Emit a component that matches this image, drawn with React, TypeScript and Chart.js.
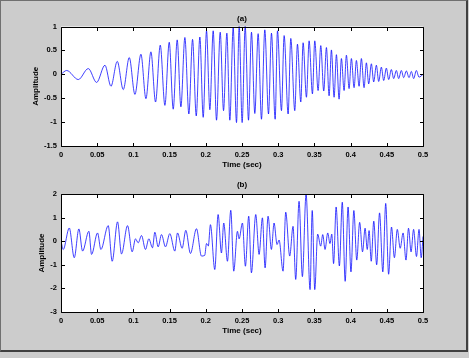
import React, { useEffect, useRef } from "react";
import { Chart, registerables } from "chart.js";

Chart.register(...registerables);

// ---------- data ----------
const timeA = [0, .0078, .0239, .0377, .0492, .0607, .069, .0777, .086, .0943, .1021, .1104, .1173, .1242, .1306, .1371, .1435, .1495, .155, .1605, .1656, .1711, .1766, .1817, .1868, .1918, .1964, .201, .2056, .2102, .2148, .2199, .2245, .2291, .2332, .2378, .2424, .2461, .2502, .2544, .259, .2631, .2677, .2723, .2769, .2815, .2866, .2907, .2958, .299, .3045, .3082, .3137, .3174, .3229, .3266, .3312, .3344, .339, .3427, .3473, .3505, .3551, .3588, .3629, .3666, .3703, .3735, .3772, .3804, .3841, .3873, .391, .3942, .3979, .4011, .4048, .408, .4117, .4149, .4186, .4218, .425, .4287, .4319, .4356, .4388, .4425, .4457, .4494, .4526, .4563, .4595, .4632, .4664, .4701, .4733, .477, .4807, .4839, .4871, .4908, .4945, .5];
const ampA = [0, .08, -.11, .12, -.17, .19, -.25, .27, -.32, .35, -.42, .42, -.51, .47, -.58, .61, -.65, .67, -.73, .72, -.68, .77, -.83, .73, -.87, .78, -.90, .91, -.74, .91, -.96, .88, -.76, .86, -.96, .97, -1.01, 1.01, -1.01, 1.01, -.96, .88, -.82, .85, -.94, .93, -.83, .86, -.94, .91, -.76, .81, -.83, .75, -.76, .63, -.58, .66, -.48, .70, -.41, .70, -.34, .60, -.35, .56, -.45, .51, -.48, .41, -.52, .33, -.34, .40, -.30, .33, -.28, .29, -.25, .33, -.28, .24, -.20, .22, -.16, .19, -.15, .15, -.13, .13, -.11, .10, -.09, .08, -.09, .08, -.07, .07, -.07, .06, -.09, .08, -.06, 0];

const timeB = [0, .0031, .0114, .0183, .0247, .0298, .0385, .0422, .0505, .0551, .0652, .0707, .0781, .0836, .0919, .0983, .1029, .1066, .1112, .1167, .1213, .1264, .1296, .1342, .1388, .1443, .1503, .1572, .1609, .1673, .1724, .1788, .1871, .194, .1985, .201, .2035, .2064, .2124, .217, .2216, .2248, .2299, .2345, .2386, .2437, .246, .2506, .2547, .2593, .263, .269, .2736, .2782, .2819, .286, .2906, .2943, .2984, .3012, .3067, .3104, .3159, .3205, .3242, .3288, .3334, .3385, .344, .347, .3505, .3545, .3587, .3615, .3647, .3684, .3715, .374, .3765, .38, .3845, .3885, .3925, .3965, .4005, .4045, .4085, .4125, .4165, .42, .423, .4255, .4285, .432, .436, .44, .4445, .4485, .4525, .4565, .4605, .4645, .4685, .4725, .4765, .48, .4835, .487, .491, .4945, .4975, .5];
const ampB = [0, -.35, .56, -.70, .52, -.42, .42, -.56, .35, -.35, .66, -.85, .82, -.54, .66, -.45, .10, -.07, .24, -.35, .10, -.28, .38, -.24, .28, -.24, .32, -.42, .35, -.30, .46, -.52, .53, -.63, -.60, -.10, -.20, .70, -1.20, 1.13, -.50, .77, -.85, 1.31, -1.27, .42, .10, .77, -1.06, 1.06, -1.34, 1.13, -.56, .99, -1.13, 1.06, -.35, .77, -.14, .05, -1.27, 1.23, -.63, .63, -1.62, 1.69, -1.50, 2.00, -2.05, 1.30, -2.05, .30, -.21, .28, -.35, .35, -.10, .30, -.95, 1.45, -1.05, 1.65, -1.70, 1.45, -1.30, 1.30, -.80, .80, -.45, .55, -.35, .45, -.85, .85, -1.00, 1.20, -1.30, 1.60, -1.40, .60, -.70, .50, -.30, .35, -.80, .55, -.45, .50, -.65, .50, -.70, .20];

const xTicks = [0, 0.05, 0.1, 0.15, 0.2, 0.25, 0.3, 0.35, 0.4, 0.45, 0.5];
const yTicksA = [-1.5, -1, -0.5, 0, 0.5, 1];
const yTicksB = [-3, -2, -1, 0, 1, 2];
const titleA = "(a)";
const titleB = "(b)";
const xLabel = "Time (sec)";
const yLabel = "Amplitude";

const FONT = "'Liberation Sans', Arial, Helvetica, sans-serif";
const W = 469;
const PANEL_H = 179;

const matlabAxes = {
  id: "matlabAxes",
  beforeDraw(chart: any) {
    const { ctx, chartArea: a } = chart;
    ctx.save();
    ctx.fillStyle = "#ffffff";
    ctx.fillRect(a.left, a.top, a.right - a.left, a.bottom - a.top);
    ctx.restore();
  },
  afterDraw(chart: any, _args: any, opts: any) {
    const { ctx, chartArea: a, scales } = chart;
    const L = Math.round(a.left) + 0.5;
    const R = Math.round(a.right) + 0.5;
    const T = Math.round(a.top) + 0.5;
    const B = Math.round(a.bottom) + 0.5;
    const tl = 3.5;
    ctx.save();
    ctx.strokeStyle = "#000";
    ctx.lineWidth = 1;
    ctx.beginPath();
    ctx.rect(L, T, R - L, B - T);
    for (const t of scales.x.ticks) {
      const px = Math.round(scales.x.getPixelForValue(t.value)) + 0.5;
      ctx.moveTo(px, B);
      ctx.lineTo(px, B - tl);
      ctx.moveTo(px, T);
      ctx.lineTo(px, T + tl);
    }
    for (const t of scales.y.ticks) {
      const py = Math.round(scales.y.getPixelForValue(t.value)) + 0.5;
      ctx.moveTo(L, py);
      ctx.lineTo(L + tl, py);
      ctx.moveTo(R, py);
      ctx.lineTo(R - tl, py);
    }
    ctx.stroke();
    ctx.fillStyle = "#000";
    ctx.font = `bold 8px ${FONT}`;
    ctx.textAlign = "center";
    ctx.textBaseline = "middle";
    ctx.fillText(opts.title, (a.left + a.right) / 2, opts.titleY);
    ctx.restore();
  },
};

type PanelCfg = {
  times: number[];
  amps: number[];
  yTicks: number[];
  title: string;
  titleY: number;
  plotTop: number;
  plotBottom: number;
  xTitleY: number;
  yTitleX: number;
};

function buildChart(canvas: HTMLCanvasElement, p: PanelCfg) {
  const data = p.times.map((t, i) => ({ x: t, y: p.amps[i] }));
  const tickFont = { family: FONT, size: 7.5, weight: "bold" as const };
  const titleFont = { family: FONT, size: 8, weight: "bold" as const };
  return new Chart(canvas, {
    type: "line",
    data: {
      datasets: [
        {
          data,
          borderColor: "#0000ff",
          borderWidth: 0.75,
          pointRadius: 0,
          cubicInterpolationMode: "monotone",
          fill: false,
        },
      ],
    },
    options: {
      animation: false,
      responsive: false,
      devicePixelRatio: 1,
      events: [],
      layout: { padding: { left: 0, right: W - 423, top: p.plotTop, bottom: 0 } },
      plugins: {
        legend: { display: false },
        tooltip: { enabled: false },
        title: { display: false },
        matlabAxes: { title: p.title, titleY: p.titleY },
      } as any,
      scales: {
        x: {
          type: "linear",
          min: 0,
          max: 0.5,
          afterBuildTicks: (s: any) => {
            s.ticks = xTicks.map((v) => ({ value: v }));
          },
          afterFit: (s: any) => {
            s.height = PANEL_H - p.plotBottom;
          },
          grid: { display: false, drawTicks: false },
          border: { display: false },
          ticks: {
            padding: 4,
            color: "#000",
            font: tickFont,
            maxRotation: 0,
            autoSkip: false,
            callback: (v: any) => String(Number(Number(v).toFixed(2))),
          },
          title: {
            display: true,
            text: xLabel,
            color: "#000",
            font: titleFont,
            padding: { top: 0, bottom: PANEL_H - p.xTitleY - 4.8 },
          },
        },
        y: {
          type: "linear",
          min: p.yTicks[0],
          max: p.yTicks[p.yTicks.length - 1],
          afterBuildTicks: (s: any) => {
            s.ticks = p.yTicks.map((v) => ({ value: v }));
          },
          afterFit: (s: any) => {
            s.width = 61;
          },
          grid: { display: false, drawTicks: false },
          border: { display: false },
          ticks: {
            padding: 4,
            color: "#000",
            font: tickFont,
            autoSkip: false,
            callback: (v: any) => String(Number(Number(v).toFixed(2))),
          },
          title: {
            display: true,
            text: yLabel,
            color: "#000",
            font: titleFont,
            padding: { top: p.yTitleX - 4.8, bottom: 0 },
          },
        },
      },
    } as any,
    plugins: [matlabAxes],
  });
}

export default function App() {
  const refA = useRef<HTMLCanvasElement>(null);
  const refB = useRef<HTMLCanvasElement>(null);

  useEffect(() => {
    const a = buildChart(refA.current!, {
      times: timeA,
      amps: ampA,
      yTicks: yTicksA,
      title: titleA,
      titleY: 18.3,
      plotTop: 26.5,
      plotBottom: 146,
      xTitleY: 164.3,
      yTitleX: 36,
    });
    const b = buildChart(refB.current!, {
      times: timeB,
      amps: ampB,
      yTicks: yTicksB,
      title: titleB,
      titleY: 185 - PANEL_H,
      plotTop: 194 - PANEL_H,
      plotBottom: 312 - PANEL_H,
      xTitleY: 330.3 - PANEL_H,
      yTitleX: 42,
    });
    return () => {
      a.destroy();
      b.destroy();
    };
  }, []);

  return (
    <div
      style={{
        position: "fixed",
        left: 0,
        top: 0,
        width: W,
        height: 358,
        background: "#cccccc",
        overflow: "hidden",
      }}
    >
      <div
        style={{
          position: "absolute",
          left: 0,
          top: 0,
          width: 468,
          height: 352,
          boxSizing: "border-box",
          borderTop: "1px solid #707070",
          borderLeft: "1px solid #707070",
          borderRight: "2px solid #404040",
          borderBottom: "2px solid #404040",
        }}
      />
      <canvas
        ref={refA}
        width={W}
        height={PANEL_H}
        style={{ position: "absolute", left: 0, top: 0, width: W, height: PANEL_H }}
      />
      <canvas
        ref={refB}
        width={W}
        height={PANEL_H}
        style={{ position: "absolute", left: 0, top: PANEL_H, width: W, height: PANEL_H }}
      />
    </div>
  );
}
